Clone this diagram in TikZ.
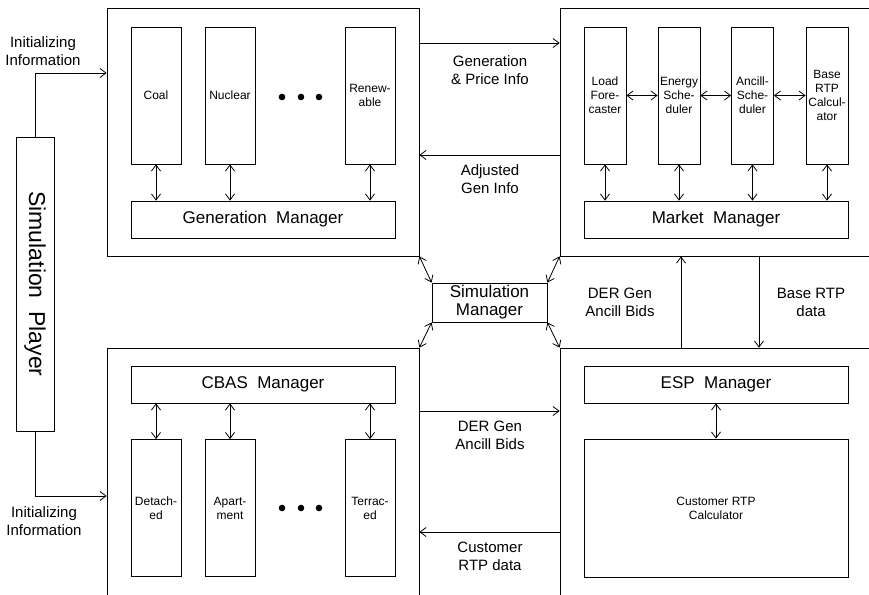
\documentclass[tikz,border=0pt]{standalone}
\usepackage{fontspec}
\setmainfont{Liberation Sans}
\usetikzlibrary{arrows.meta, positioning}

\begin{document}
\begin{tikzpicture}[x=1pt, y=-1pt, line width=0.8pt,
    >={Straight Barb[length=6pt,width=9pt]},
    bigbox/.style={draw, minimum width=#1, inner sep=0pt},
    unit/.style={draw, minimum width=50pt, minimum height=137pt, inner sep=0pt,
      align=center, font=\fontsize{12}{14}\selectfont},
    mkunit/.style={unit, minimum width=42pt},
    mgr/.style={draw, minimum width=264pt, minimum height=37pt, inner sep=0pt,
      font=\fontsize{17}{20}\selectfont},
    flow/.style={align=center, font=\fontsize{15}{18}\selectfont}]
  \useasboundingbox (0,0) rectangle (869,594);

  % the four subsystems
  \begin{scope}[every node/.style={bigbox=312pt}]
    \node[minimum height=248pt] (gen) at (263,132) {};
    \node[minimum height=262pt] (cbas) at (263,479) {};
    \node[minimum width=325pt, minimum height=248pt] (mkt) at (722.5,132) {};
    \node[minimum width=325pt, minimum height=262pt] (esp) at (722.5,479) {};
  \end{scope}

  % simulation player and manager
  \node[draw, minimum width=38pt, minimum height=294pt, inner sep=0pt,
    label={[rotate=-90, font=\fontsize{23}{26}\selectfont]center:Simulation~~Player}] (sp) at (35,284) {};
  \node[draw, minimum width=115pt, minimum height=39pt, inner sep=0pt, align=center,
    font=\fontsize{17}{18}\selectfont] (simmgr) at (489.5,302.5) {Simulation\\Manager};

  % generation
  \node[unit] (coal) at (156,95.5) {Coal};
  \node[unit] (nuclear) at (230,95.5) {Nuclear};
  \node[unit] (renew) at (370,95.5) {Renew-\\able};
  \node[mgr] (genmgr) at (263,219.5) {Generation~~Manager};

  % market
  \node[mkunit] (load) at (605,95.5) {Load\\Fore-\\caster};
  \node[mkunit] (energy) at (679,95.5) {Energy\\Sche-\\duler};
  \node[mkunit] (ancill) at (752.5,95.5) {Ancill-\\Sche-\\duler};
  \node[mkunit] (base) at (827,95.5) {Base\\RTP\\Calcul-\\ator};
  \node[mgr] (mktmgr) at (716,219.5) {Market~~Manager};

  % CBAS
  \node[mgr] (cbasmgr) at (263,384.5) {CBAS~~Manager};
  \node[unit] (detached) at (156,508) {Detach-\\ed};
  \node[unit] (apart) at (230,508) {Apart-\\ment};
  \node[unit] (terr) at (370,508) {Terrac-\\ed};

  % ESP
  \node[mgr] (espmgr) at (716,384.5) {ESP~~Manager};
  \node[unit, minimum width=264pt, minimum height=138pt] (custcalc) at (716,508) {Customer RTP\\Calculator};

  \foreach \x in {282,301,319} {
    \fill (\x,97) circle (3.3pt);
    \fill (\x,508) circle (3.3pt);
  }

  \begin{scope}[every edge/.style={draw, <->}]
    \path (coal.south) edge (coal.south |- genmgr.north);
    \path (nuclear.south) edge (nuclear.south |- genmgr.north);
    \path (renew.south) edge (renew.south |- genmgr.north);
    \path (load.south) edge (load.south |- mktmgr.north);
    \path (energy.south) edge (energy.south |- mktmgr.north);
    \path (ancill.south) edge (ancill.south |- mktmgr.north);
    \path (base.south) edge (base.south |- mktmgr.north);
    \path (load) edge (energy);
    \path (energy) edge (ancill);
    \path (ancill) edge (base);
    \path (cbasmgr.south -| detached) edge (detached.north);
    \path (cbasmgr.south -| apart) edge (apart.north);
    \path (cbasmgr.south -| terr) edge (terr.north);
    \path (espmgr) edge (custcalc);
    \path (simmgr.north west) edge (gen.south east);
    \path (simmgr.north east) edge (mkt.south west);
    \path (simmgr.south west) edge (cbas.north east);
    \path (simmgr.south east) edge (esp.north west);
  \end{scope}

  % information flows
  \draw[->] (sp.north) |- (gen.west |- 0,73);
  \draw[->] (sp.south) |- (cbas.west |- 0,496);
  \node[flow] (inittop) at (43,51) {Initializing\\Information};
  \node[flow] (initbot) at (44,521) {Initializing\\Information};

  \draw[->] (gen.east |- 0,43) -- (mkt.west |- 0,43);
  \node[flow] (genprice) at (490,70) {Generation\\\& Price Info};
  \draw[->] (mkt.west |- 0,155) -- (gen.east |- 0,155);
  \node[flow] (adjgen) at (490,179) {Adjusted\\Gen Info};
  \draw[->] (cbas.east |- 0,411) -- (esp.west |- 0,411);
  \node[flow] (derbot) at (490,435) {DER Gen\\Ancill Bids};
  \draw[->] (esp.west |- 0,532) -- (cbas.east |- 0,532);
  \node[flow] (custrtp) at (490,556) {Customer\\RTP data};
  \draw[->] (esp.north -| 681,0) -- (mkt.south -| 681,0);
  \node[flow] (dermid) at (620,302) {DER Gen\\Ancill Bids};
  \draw[->] (mkt.south -| 759,0) -- (esp.north -| 759,0);
  \node[flow] (basertp) at (811,302) {Base RTP\\data};
\end{tikzpicture}
\end{document}
